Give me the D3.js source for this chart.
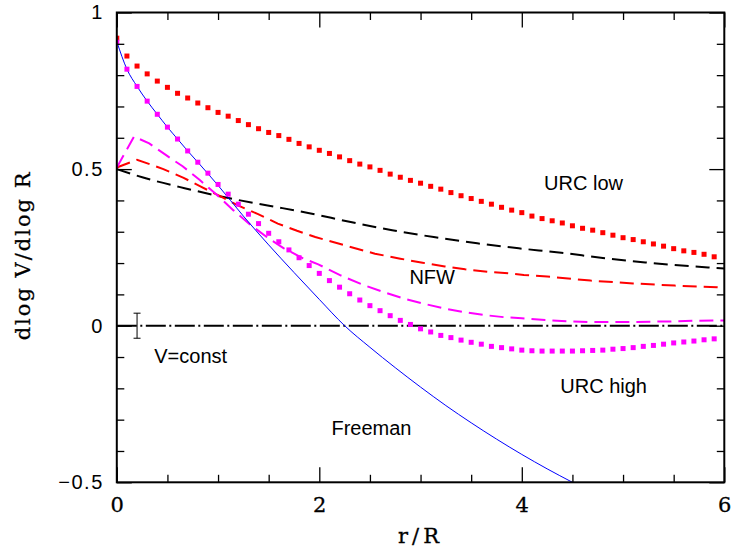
<!DOCTYPE html>
<html><head><meta charset="utf-8">
<script src="https://cdn.jsdelivr.net/npm/d3@7"></script>
<style>
html,body{margin:0;padding:0;background:#fff;}
svg{display:block;}
</style></head>
<body>
<svg id="c" width="731" height="553"></svg>
<script>
// ---------------- data ----------------
const dotStep = 0.1; // dotted series sampled every 0.1 in r/R, starting at 0
const urcLow = [
 0.918,0.861,0.829,0.804,0.781,0.761,0.742,0.727,0.711,0.696,
 0.681,0.669,0.655,0.642,0.629,0.617,0.607,0.595,0.582,0.571,
 0.560,0.550,0.539,0.527,0.516,0.507,0.496,0.484,0.474,0.464,
 0.455,0.445,0.436,0.425,0.415,0.406,0.397,0.388,0.378,0.369,
 0.361,0.350,0.342,0.335,0.328,0.319,0.311,0.305,0.297,0.289,
 0.281,0.275,0.268,0.261,0.254,0.246,0.239,0.234,0.228,0.220];
const urcHigh = [
 0.905,0.819,0.764,0.717,0.675,0.634,0.596,0.558,0.522,0.487,
 0.451,0.420,0.388,0.356,0.326,0.295,0.268,0.242,0.217,0.192,
 0.167,0.144,0.123,0.102,0.082,0.064,0.048,0.032,0.017,0.004,
 -0.010,-0.020,-0.031,-0.038,-0.046,-0.053,-0.059,-0.066,-0.070,-0.074,
 -0.078,-0.080,-0.081,-0.081,-0.081,-0.081,-0.080,-0.079,-0.078,-0.075,
 -0.073,-0.070,-0.066,-0.063,-0.059,-0.055,-0.052,-0.049,-0.045,-0.042];
const freemanX = [0,0.1,0.2,0.3,0.4,0.5,0.6,0.7,0.8,1.0,1.25,1.5,1.75,2.0,2.25,2.5,2.75,3.0,3.25,3.5,3.75,4.0,4.25,4.5];
const freemanY = [0.907,0.819,0.764,0.717,0.675,0.634,0.596,0.558,0.522,0.448,0.350,0.258,0.170,0.084,0.0,-0.069,-0.134,-0.196,-0.255,-0.310,-0.362,-0.411,-0.457,-0.5];
const nfwX = [0,0.2,0.46,0.66,0.83,1.01,1.19,1.39,1.59,1.78,1.96,2.28,2.55,2.8,3.02,3.24,3.44,3.67,3.91,4.02,4.25,4.68,5.1,5.51,5.93,6.0];
const nfwY = [0.505,0.530,0.500,0.472,0.444,0.415,0.385,0.357,0.326,0.303,0.283,0.254,0.230,0.214,0.201,0.189,0.180,0.172,0.166,0.162,0.157,0.144,0.135,0.128,0.123,0.121];
const magDashX = [0,0.17,0.32,0.48,0.65,0.82,0.99,1.15,1.32,1.49,1.65,1.84,1.99,2.2,2.42,2.62,2.82,3.02,3.22,3.42,3.63,3.83,4.0,4.23,4.45,4.66,4.88,5.09,5.31,5.52,5.73,5.93,6.0];
const magDashY = [0.505,0.604,0.582,0.546,0.509,0.465,0.417,0.369,0.322,0.281,0.247,0.215,0.196,0.162,0.132,0.109,0.088,0.071,0.056,0.044,0.034,0.027,0.024,0.018,0.014,0.012,0.012,0.012,0.013,0.014,0.016,0.017,0.017];
const blackDashX = [0,0.26,0.67,1.08,1.49,1.89,2.31,2.72,3.13,3.56,3.97,4.39,4.8,5.22,5.84,6.0];
const blackDashY = [0.500,0.473,0.439,0.409,0.384,0.360,0.331,0.305,0.283,0.263,0.247,0.233,0.216,0.202,0.186,0.183];
const errX = 0.2, errY = 0, errHalf = 0.04;
const xMajorTicks = [0,2,4,6];
const xMajorLabels = ["0","2","4","6"];
const xMinorTicks = [0.5,1,1.5,2.5,3,3.5,4.5,5,5.5];
const yMajorTicks = [-0.5,0,0.5,1];
const yMajorLabels = ["\u22120.5","0","0.5","1"];
const yMinorTicks = [-0.4,-0.3,-0.2,-0.1,0.1,0.2,0.3,0.4,0.6,0.7,0.8,0.9];
const labels = [
  {text:"URC low", x:4.22, y:0.433},
  {text:"NFW", x:2.89, y:0.133},
  {text:"V=const", x:0.37, y:-0.119},
  {text:"URC high", x:4.38, y:-0.216},
  {text:"Freeman", x:2.12, y:-0.349}
];
const xTitle = "r/R";
const yTitle = "dlog V/dlog R";

// ---------------- chart ----------------
const svg = d3.select("#c");
const L = 116.8, R = 724.3, T = 12.5, B = 482.3;
const x = d3.scaleLinear().domain([0,6]).range([L,R]);
const y = d3.scaleLinear().domain([-0.5,1]).range([B,T]);

svg.append("defs").append("clipPath").attr("id","clip")
  .append("rect").attr("x",L).attr("y",T).attr("width",R-L).attr("height",B-T);

const plot = svg.append("g").attr("clip-path","url(#clip)");
const line = d3.line().x(d=>x(d[0])).y(d=>y(d[1])).curve(d3.curveLinear);
const smooth = d3.line().x(d=>x(d[0])).y(d=>y(d[1])).curve(d3.curveMonotoneX);

// zero line (dash-dot)
plot.append("path").datum([[0,0],[6,0]]).attr("d",line)
  .attr("fill","none").attr("stroke","#000").attr("stroke-width",2)
  .attr("stroke-dasharray","20,3.5,2,3.5");

// black dashed
plot.append("path").datum(blackDashX.map((v,i)=>[v,blackDashY[i]])).attr("d",smooth)
  .attr("fill","none").attr("stroke","#000").attr("stroke-width",2)
  .attr("stroke-dasharray","14,7");
// red dashed
plot.append("path").datum(nfwX.map((v,i)=>[v,nfwY[i]])).attr("d",line)
  .attr("fill","none").attr("stroke","#ff0000").attr("stroke-width",2)
  .attr("stroke-dasharray","14,7");
// magenta dashed
plot.append("path").datum(magDashX.map((v,i)=>[v,magDashY[i]])).attr("d",line)
  .attr("fill","none").attr("stroke","#ff00ff").attr("stroke-width",2)
  .attr("stroke-dasharray","14,7");
// Freeman
plot.append("path").datum(freemanX.map((v,i)=>[v,freemanY[i]])).attr("d",smooth)
  .attr("fill","none").attr("stroke","#0000ff").attr("stroke-width",1);

// dotted series (square markers)
const sq = 5;
plot.append("g").selectAll("rect").data(urcLow).join("rect")
  .attr("x",(d,i)=>x(i*dotStep)-sq/2).attr("y",d=>y(d)-sq/2)
  .attr("width",sq).attr("height",sq).attr("fill","#ff0000");
plot.append("g").selectAll("rect").data(urcHigh).join("rect")
  .attr("x",(d,i)=>x(i*dotStep)-sq/2).attr("y",d=>y(d)-sq/2)
  .attr("width",sq).attr("height",sq).attr("fill","#ff00ff");

// error bar
const eb = svg.append("g").attr("stroke","#000").attr("stroke-width",1);
eb.append("line").attr("x1",x(errX)).attr("x2",x(errX)).attr("y1",y(errY+errHalf)).attr("y2",y(errY-errHalf));
eb.append("line").attr("x1",x(errX)-3.5).attr("x2",x(errX)+3.5).attr("y1",y(errY+errHalf)).attr("y2",y(errY+errHalf));
eb.append("line").attr("x1",x(errX)-3.5).attr("x2",x(errX)+3.5).attr("y1",y(errY-errHalf)).attr("y2",y(errY-errHalf));

// axes
function styleAxis(g){
  g.select(".domain").remove();
  g.selectAll(".tick line").attr("stroke","#000").attr("stroke-width",1.3);
}
const bx = svg.append("g").attr("transform",`translate(0,${B})`)
  .call(d3.axisBottom(x).tickValues(xMajorTicks).tickSize(-15).tickPadding(30)
    .tickFormat((d,i)=>xMajorLabels[i]));
styleAxis(bx);
bx.selectAll("text").attr("font-family","'DejaVu Serif', serif").attr("font-size",21)
  .attr("fill","#000").attr("stroke","#000").attr("stroke-width",0.3).attr("dy",0).attr("y",30);
svg.append("g").attr("transform",`translate(0,${B})`)
  .call(d3.axisBottom(x).tickValues(xMinorTicks).tickSize(-7.5).tickFormat("")).call(styleAxis);
svg.append("g").attr("transform",`translate(0,${T})`)
  .call(d3.axisTop(x).tickValues(xMajorTicks).tickSize(-15).tickFormat("")).call(styleAxis);
svg.append("g").attr("transform",`translate(0,${T})`)
  .call(d3.axisTop(x).tickValues(xMinorTicks).tickSize(-7.5).tickFormat("")).call(styleAxis);

const ly = svg.append("g").attr("transform",`translate(${L},0)`)
  .call(d3.axisLeft(y).tickValues(yMajorTicks).tickSize(-15).tickPadding(13)
    .tickFormat((d,i)=>yMajorLabels[i]));
styleAxis(ly);
ly.selectAll("text").attr("font-family","'Liberation Sans', Arial, sans-serif").attr("font-size",20)
  .attr("fill","#000").attr("letter-spacing","1.5px");
svg.append("g").attr("transform",`translate(${L},0)`)
  .call(d3.axisLeft(y).tickValues(yMinorTicks).tickSize(-7.5).tickFormat("")).call(styleAxis);
svg.append("g").attr("transform",`translate(${R},0)`)
  .call(d3.axisRight(y).tickValues(yMajorTicks).tickSize(-15).tickFormat("")).call(styleAxis);
svg.append("g").attr("transform",`translate(${R},0)`)
  .call(d3.axisRight(y).tickValues(yMinorTicks).tickSize(-7.5).tickFormat("")).call(styleAxis);

// frame
svg.append("rect").attr("x",L).attr("y",T).attr("width",R-L).attr("height",B-T)
  .attr("fill","none").attr("stroke","#000").attr("stroke-width",2);

// in-plot labels
svg.append("g").selectAll("text").data(labels).join("text")
  .attr("x",d=>x(d.x)).attr("y",d=>y(d.y))
  .attr("font-family","'Liberation Sans', Arial, sans-serif").attr("font-size",20)
  .attr("fill","#000").text(d=>d.text);

// axis titles
svg.append("text").attr("x",(L+R)/2).attr("y",543).attr("text-anchor","middle")
  .attr("font-family","'DejaVu Serif', serif").attr("font-size",21).attr("letter-spacing","4px")
  .attr("fill","#000").attr("stroke","#000").attr("stroke-width",0.3).text(xTitle);
svg.append("text").attr("transform",`translate(30,${(T+B)/2 + 8}) rotate(-90)`)
  .attr("text-anchor","middle")
  .attr("font-family","'DejaVu Serif', serif").attr("font-size",21).attr("letter-spacing","2px")
  .attr("fill","#000").attr("stroke","#000").attr("stroke-width",0.3).text(yTitle);
</script>
</body></html>
